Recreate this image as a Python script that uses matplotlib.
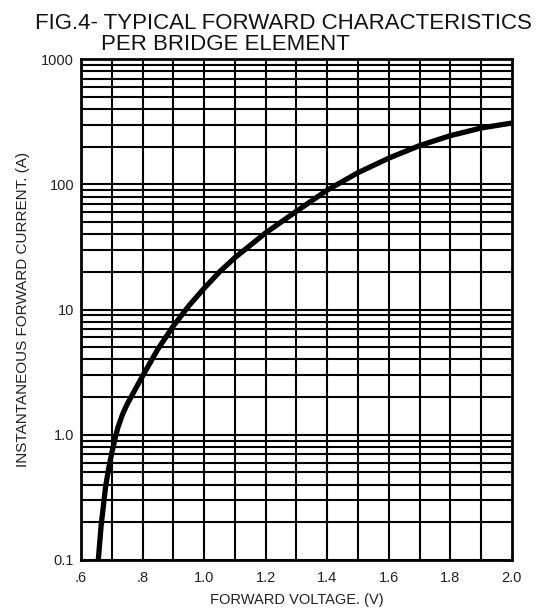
"""Typical forward characteristics per bridge element (log current vs voltage)."""

import matplotlib
matplotlib.use("Agg")
import matplotlib.pyplot as plt
from matplotlib.ticker import FixedLocator, LogLocator, NullFormatter

plt.rcParams["font.family"] = ["Liberation Sans", "DejaVu Sans"]

# Values
forward_voltage = [0.656, 0.665, 0.68, 0.69, 0.70, 0.71, 0.72, 0.735, 0.75,
                   0.775, 0.80, 0.85, 0.90, 0.95, 1.0, 1.05, 1.1, 1.2, 1.3,
                   1.4, 1.5, 1.6, 1.7, 1.8, 1.9, 2.0]
forward_current = [0.1, 0.186, 0.39, 0.54, 0.72, 0.92, 1.15, 1.46, 1.76,
                   2.28, 2.95, 4.85, 7.4, 10.7, 14.8, 20, 26, 41, 61,
                   90, 124, 162, 204, 245, 282, 309]

x_ticks = [0.6, 0.8, 1.0, 1.2, 1.4, 1.6, 1.8, 2.0]
x_tick_labels = [".6", ".8", "1.0", "1.2", "1.4", "1.6", "1.8", "2.0"]
x_grid = [0.7, 0.8, 0.9, 1.0, 1.1, 1.2, 1.3, 1.4, 1.5, 1.6, 1.7, 1.8, 1.9]
y_ticks = [0.1, 1.0, 10, 100, 1000]
y_tick_labels = ["0.1", "1.0", "10", "100", "1000"]

fig = plt.figure(figsize=(5.44, 6.10), dpi=100)
ax = fig.add_axes([0.149, 0.082, 0.792, 0.821])

ax.set_yscale("log")
ax.set_xlim(0.6, 2.0)
ax.set_ylim(0.1, 1000)

# grid: vertical every 0.1 V, horizontal at every log minor step
for xv in x_grid:
    ax.axvline(xv, color="black", lw=1.5, zorder=1)
ax.yaxis.set_minor_locator(LogLocator(base=10, subs=range(2, 10)))
ax.yaxis.set_minor_formatter(NullFormatter())
ax.grid(True, which="both", axis="y", color="black", lw=1.5, zorder=1)

ax.plot(forward_voltage, forward_current, color="black", lw=3.8,
        solid_joinstyle="round", solid_capstyle="butt", zorder=3)

ax.xaxis.set_major_locator(FixedLocator(x_ticks))
ax.set_xticklabels(x_tick_labels)
ax.yaxis.set_major_locator(FixedLocator(y_ticks))
ax.set_yticklabels(y_tick_labels)
ax.tick_params(which="both", length=0, labelsize=10.5, colors="#222222")
ax.tick_params(axis="x", pad=8)
ax.tick_params(axis="y", pad=5)

for spine in ax.spines.values():
    spine.set_linewidth(2.0)

ax.set_xlabel("FORWARD VOLTAGE. (V)", fontsize=10.5, color="#222222", labelpad=6)
ax.set_ylabel("INSTANTANEOUS FORWARD CURRENT. (A)", fontsize=11,
              color="#222222", labelpad=8)

fig.text(0.064, 0.953, "FIG.4- TYPICAL FORWARD CHARACTERISTICS",
         fontsize=16, color="#111111", ha="left", va="baseline")
fig.text(0.186, 0.918, "PER BRIDGE ELEMENT",
         fontsize=16, color="#111111", ha="left", va="baseline")

fig.savefig("out.png", dpi=100)
